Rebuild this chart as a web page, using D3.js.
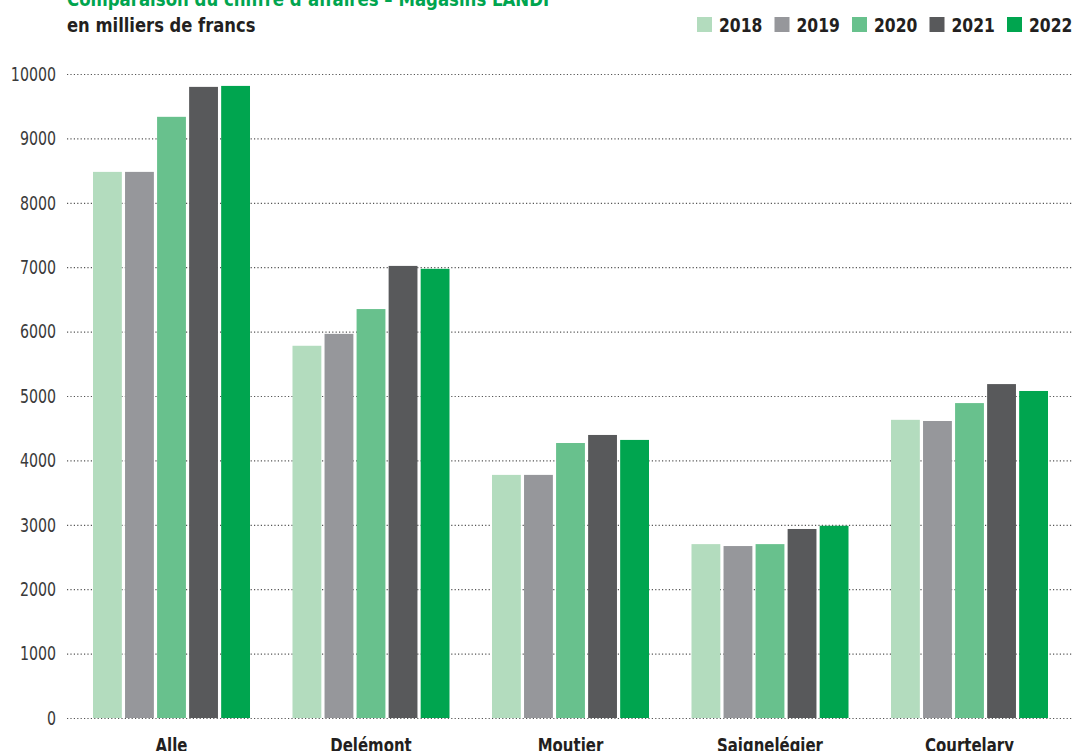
<!DOCTYPE html>
<html>
<head>
<meta charset="utf-8">
<script src="https://cdn.jsdelivr.net/npm/d3@7.9.0/dist/d3.min.js"></script>
<style>
  body { margin: 0; background: #fff; }
  svg { display: block; font-family: "Liberation Sans Narrow", "DejaVu Sans Condensed", "Arial Narrow", sans-serif; font-stretch: condensed; }
  .grid line { stroke: #555; stroke-width: 1.2; stroke-dasharray: 1.2 2.2; }
  .ytick { fill: #3a3a3a; font-size: 19px; }
  .xlabel { fill: #231f20; font-size: 20px; font-weight: bold; }
</style>
</head>
<body>
<svg width="1073" height="751"></svg>
<script>
// stores and years
const stores = ['Alle', 'Delémont', 'Moutier', 'Saignelégier', 'Courtelary'];
const years = ['2018', '2019', '2020', '2021', '2022'];
const colors = ['#b3dcbe', '#96979b', '#68c18d', '#58595b', '#00a54f'];
const yTicks = [0, 1000, 2000, 3000, 4000, 5000, 6000, 7000, 8000, 9000, 10000];

// values in thousands of francs, one array per year (same order as stores)
const v2018 = [8480, 5780, 3775, 2700, 4630];
const v2019 = [8480, 5965, 3775, 2670, 4612];
const v2020 = [9335, 6350, 4270, 2700, 4890];
const v2021 = [9800, 7020, 4395, 2935, 5185];
const v2022 = [9815, 6975, 4318, 2985, 5078];
const series = [v2018, v2019, v2020, v2021, v2022];

const svg = d3.select('svg');

// squeeze text a bit, the original uses a condensed face
function condense(sel, k) {
  sel.each(function () {
    const w = this.getComputedTextLength();
    d3.select(this).attr('textLength', w * k).attr('lengthAdjust', 'spacingAndGlyphs');
  });
}

const y = d3.scaleLinear().domain([0, 10000]).range([718, 74]);
const x0 = d3.scaleBand().domain(stores).range([71.75, 1069.25])
  .paddingInner(0.213).paddingOuter(0.1065);
const x1 = d3.scaleBand().domain(years).range([0, x0.bandwidth()]).paddingInner(0.1);

// dotted gridlines
svg.append('g').attr('class', 'grid')
  .selectAll('line').data(yTicks).join('line')
  .attr('x1', 67).attr('x2', 1073)
  .attr('y1', d => y(d) + 0.5).attr('y2', d => y(d) + 0.5);

svg.append('g').selectAll('text').data(yTicks).join('text')
  .attr('class', 'ytick')
  .attr('x', 56).attr('y', d => y(d)).attr('dy', '0.36em')
  .attr('text-anchor', 'end')
  .text(d => d)
  .call(condense, 0.83);

// bars
const groups = svg.append('g').selectAll('g').data(stores).join('g')
  .attr('transform', d => `translate(${x0(d)},0)`);

groups.selectAll('rect')
  .data((s, i) => years.map((yr, j) => ({ yr, j, value: series[j][i] })))
  .join('rect')
  .attr('x', d => x1(d.yr))
  .attr('width', x1.bandwidth())
  .attr('y', d => y(d.value))
  .attr('height', d => y(0) - y(d.value))
  .attr('fill', d => colors[d.j]);

svg.append('g').selectAll('text').data(stores).join('text')
  .attr('class', 'xlabel')
  .attr('x', d => x0(d) + x0.bandwidth() / 2)
  .attr('y', 752)
  .attr('text-anchor', 'middle')
  .text(d => d)
  .call(condense, 0.83);

// titles
svg.append('text').attr('x', 67).attr('y', 6)
  .attr('fill', '#00a54f').attr('font-size', 20).attr('font-weight', 'bold')
  .text('Comparaison du chiffre d\u2019affaires \u2013 Magasins LANDI')
  .call(condense, 0.92);
svg.append('text').attr('x', 67).attr('y', 32)
  .attr('fill', '#231f20').attr('font-size', 20).attr('font-weight', 'bold')
  .text('en milliers de francs')
  .call(condense, 0.91);

// legend
const legend = svg.append('g').selectAll('g').data(years).join('g')
  .attr('transform', (d, i) => `translate(${697 + i * 77.5},17)`);
legend.append('rect').attr('width', 15).attr('height', 15)
  .attr('fill', (d, i) => colors[i]);
legend.append('text').attr('x', 22).attr('y', 15)
  .attr('fill', '#231f20').attr('font-size', 20).attr('font-weight', 'bold')
  .text(d => d)
  .call(condense, 0.865);
</script>
</body>
</html>
